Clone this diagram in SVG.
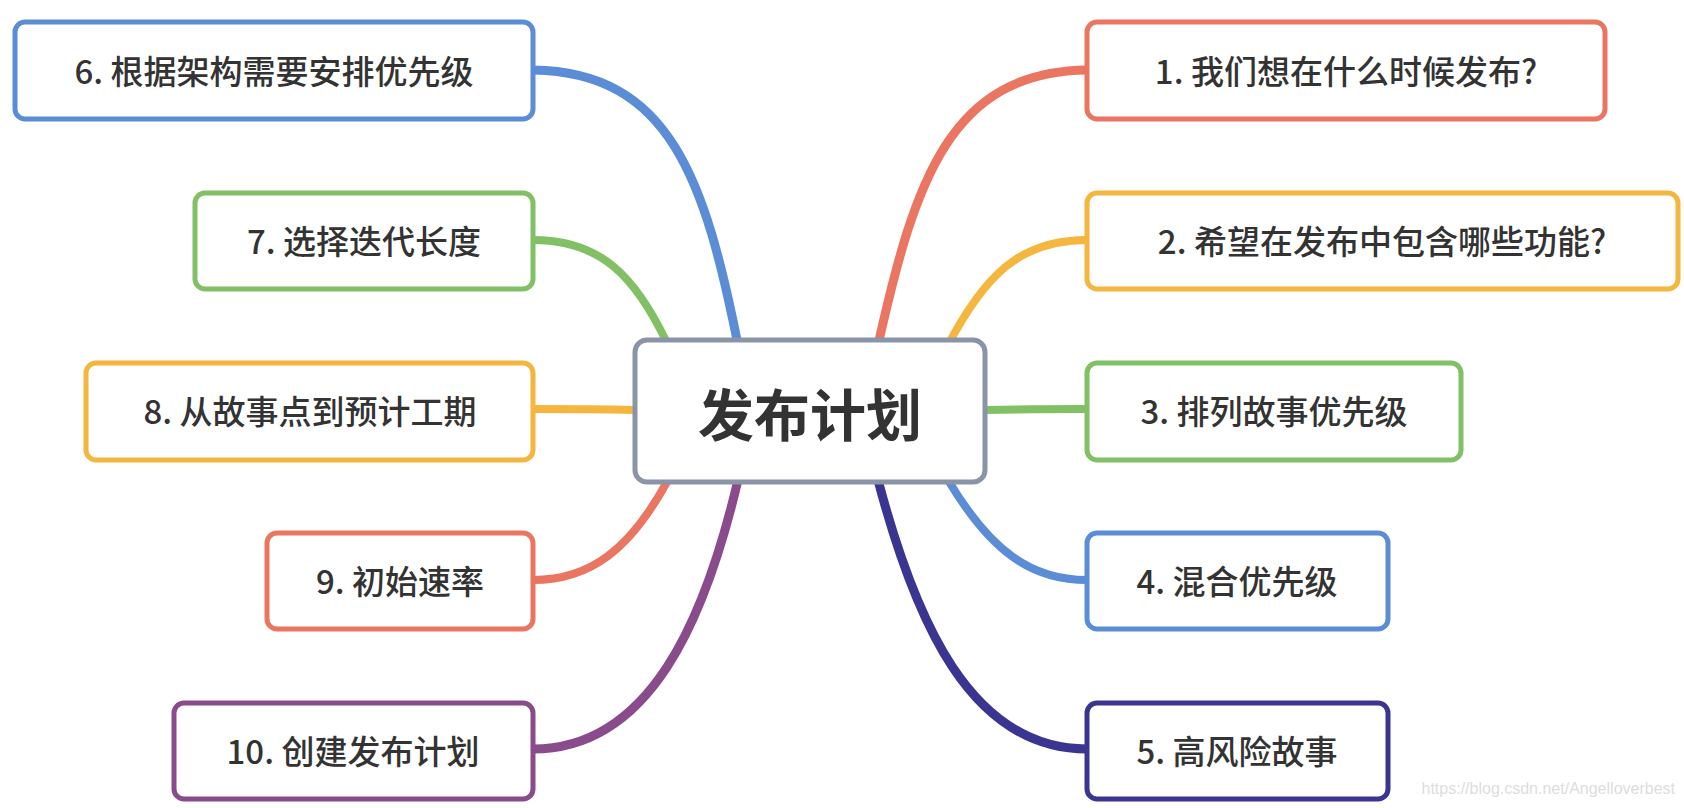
<svg xmlns="http://www.w3.org/2000/svg" width="1684" height="808" viewBox="0 0 1684 808">
<style>
.n{fill:#fff;stroke-width:5}
.t{font-family:"Noto Sans CJK SC","Noto Sans",sans-serif;font-size:33px;font-weight:500;fill:#333;text-anchor:middle;dominant-baseline:central}
.c{fill:none;stroke-linecap:round}
</style>
<rect width="1684" height="808" fill="#fff"/>
<g id="connectors">
<path class="c" d="M878 345 C915 180 950 72 1087 70" stroke="#EA7561" stroke-width="9"/>
<path class="c" d="M948 345 C985 275 1020 240 1087 240" stroke="#F4B63E" stroke-width="8"/>
<path class="c" d="M985 410 C1030 409 1060 409 1087 409" stroke="#82C065" stroke-width="8"/>
<path class="c" d="M948 480 C990 550 1030 580 1087 580" stroke="#5B8DD6" stroke-width="8"/>
<path class="c" d="M878 480 C915 620 970 749 1087 749" stroke="#3A3591" stroke-width="9"/>
<path class="c" d="M738 345 C705 180 670 72 533 70" stroke="#5B8DD6" stroke-width="9"/>
<path class="c" d="M668 345 C635 275 600 240 533 240" stroke="#82C065" stroke-width="8"/>
<path class="c" d="M635 410 C590 409 560 409 533 409" stroke="#F4B63E" stroke-width="8"/>
<path class="c" d="M668 480 C630 550 590 580 533 580" stroke="#EA7561" stroke-width="8"/>
<path class="c" d="M738 480 C705 620 650 749 533 749" stroke="#8A4B8C" stroke-width="9"/>
</g>
<g id="center"><rect class="n" x="635" y="340" width="350" height="142" rx="12" stroke="#8A94A8"/><text class="t" x="810" y="411" style="font-size:56px;font-weight:bold">发布计划</text></g>
<g id="n1"><rect class="n" x="1087" y="22" width="518" height="97" rx="10" stroke="#EA7561"/><text class="t" x="1346" y="70">1. 我们想在什么时候发布?</text></g>
<g id="n2"><rect class="n" x="1087" y="193" width="591" height="96" rx="10" stroke="#F4B63E"/><text class="t" x="1382" y="240">2. 希望在发布中包含哪些功能?</text></g>
<g id="n3"><rect class="n" x="1087" y="363" width="374" height="97" rx="10" stroke="#82C065"/><text class="t" x="1274" y="410">3. 排列故事优先级</text></g>
<g id="n4"><rect class="n" x="1087" y="533" width="301" height="96" rx="10" stroke="#5B8DD6"/><text class="t" x="1237" y="580">4. 混合优先级</text></g>
<g id="n5"><rect class="n" x="1087" y="703" width="301" height="96" rx="10" stroke="#3A3591"/><text class="t" x="1237" y="750">5. 高风险故事</text></g>
<g id="n6"><rect class="n" x="15" y="22" width="518" height="97" rx="10" stroke="#5B8DD6"/><text class="t" x="274" y="70">6. 根据架构需要安排优先级</text></g>
<g id="n7"><rect class="n" x="195" y="193" width="338" height="96" rx="10" stroke="#82C065"/><text class="t" x="364" y="240">7. 选择迭代长度</text></g>
<g id="n8"><rect class="n" x="86" y="363" width="447" height="97" rx="10" stroke="#F4B63E"/><text class="t" x="310" y="410">8. 从故事点到预计工期</text></g>
<g id="n9"><rect class="n" x="267" y="533" width="266" height="96" rx="10" stroke="#EA7561"/><text class="t" x="400" y="580">9. 初始速率</text></g>
<g id="n10"><rect class="n" x="174" y="703" width="359" height="96" rx="10" stroke="#8A4B8C"/><text class="t" x="353" y="750">10. 创建发布计划</text></g>
<text x="1675" y="794" style="font-family:'Liberation Sans',sans-serif;font-size:16px;fill:#ddd;text-anchor:end">https://blog.csdn.net/Angelloverbest</text>
</svg>
